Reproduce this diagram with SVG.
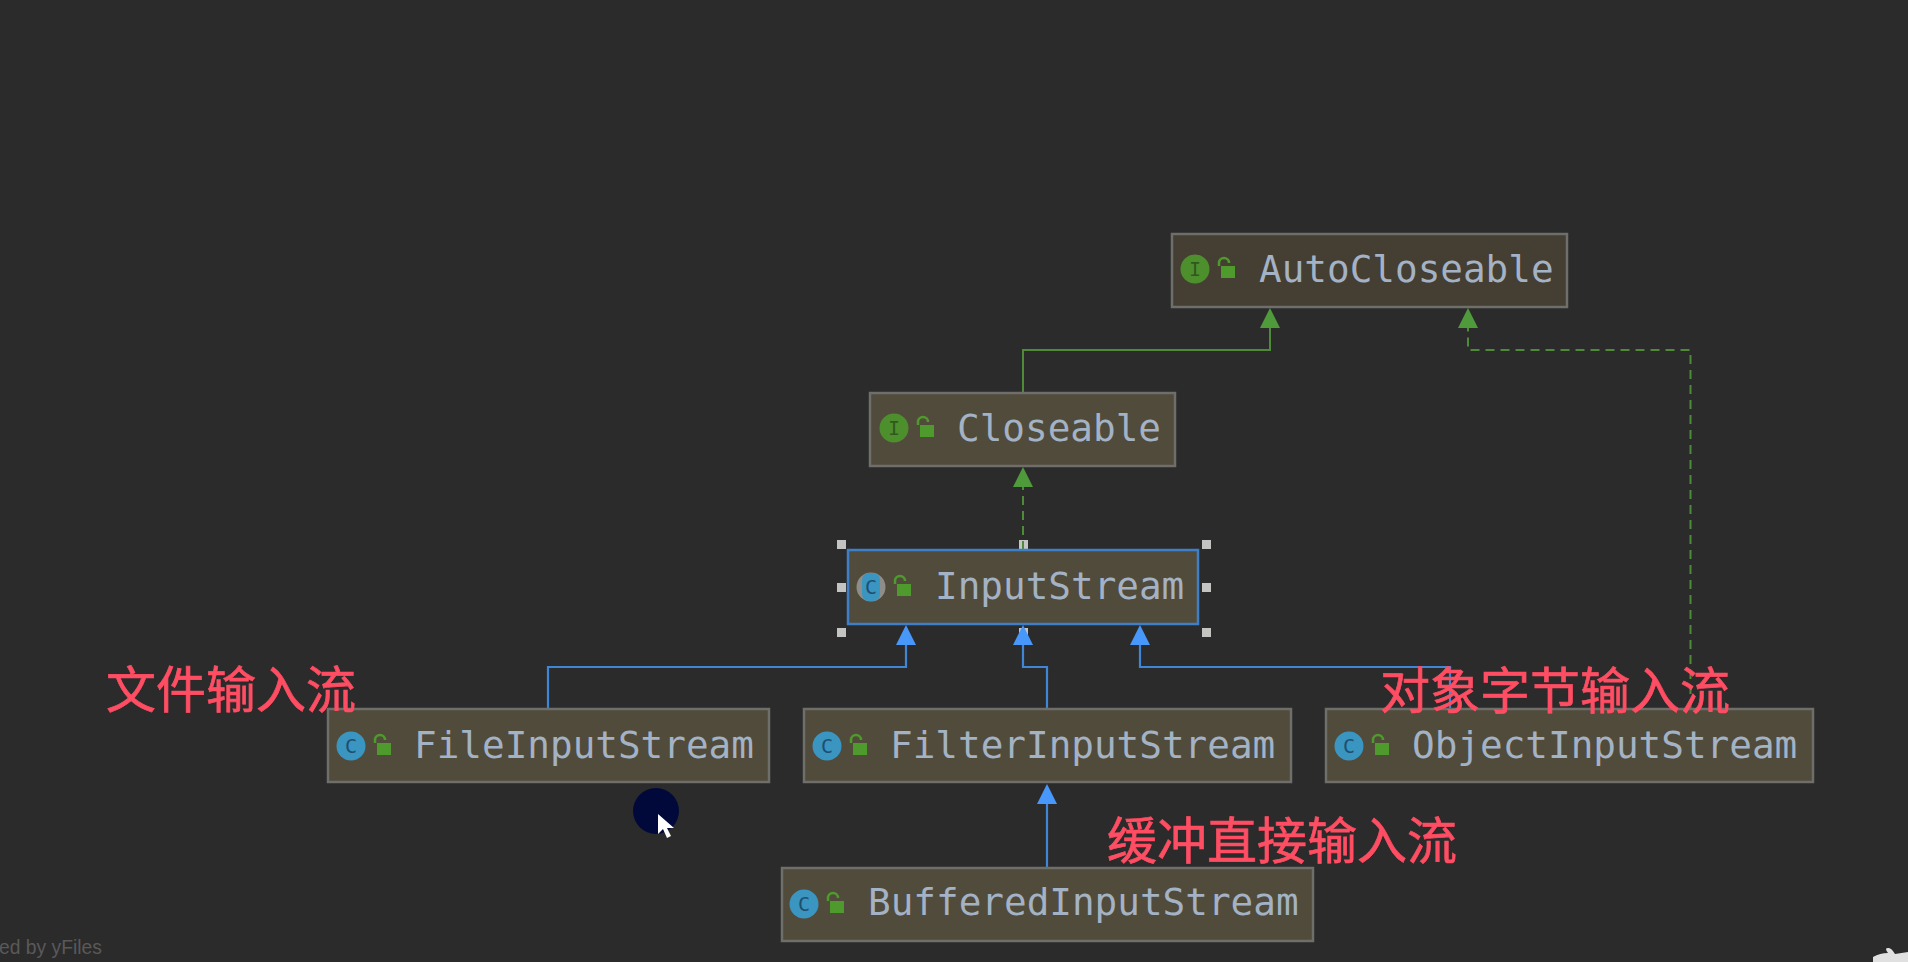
<svg xmlns="http://www.w3.org/2000/svg" width="1908" height="962" viewBox="0 0 1908 962">
<style>
.node{fill:#514b3b;stroke:#6e6e6a;stroke-width:2.5}
.name{font-family:"DejaVu Sans Mono","Liberation Mono",monospace;font-size:37.65px;fill:#a3b2c4}
.ic{fill:#3a95c0}
.ii{fill:#4e8f2d}
.gl{font-family:"DejaVu Sans Mono","Liberation Mono",monospace;font-size:20px;text-anchor:middle;fill:#1f4f70}
.lockb{fill:#4f9a2c}
.lock{fill:none;stroke:#4f9a2c;stroke-width:2.5}
.cb{fill:none;stroke:#3f86d6;stroke-width:2.2}
.cg{fill:none;stroke:#4f8a38;stroke-width:2}
.dash{stroke-dasharray:9 6}
.ag{fill:#4f9a3a}
.ab{fill:#4898fb}
.label{font-family:"Noto Sans CJK SC","Liberation Sans",sans-serif;font-size:50px;fill:#ff4d63;stroke:#ff4d63;stroke-width:.7}
.h{fill:#c4c4c2}
</style>
<rect width="1908" height="962" fill="#2b2b2b"/>
<g id="handles">
<rect class="h" x="837" y="540" width="9" height="9"/><rect class="h" x="1019" y="540" width="9" height="9"/><rect class="h" x="1202" y="540" width="9" height="9"/>
<rect class="h" x="837" y="583" width="9" height="9"/><rect class="h" x="1202" y="583" width="9" height="9"/>
<rect class="h" x="837" y="628" width="9" height="9"/><rect class="h" x="1019" y="628" width="9" height="9"/><rect class="h" x="1202" y="628" width="9" height="9"/>
</g>
<g id="connectors">
<path class="cg" d="M1023 392V350H1270V328"/>
<path class="ag" d="M1270 308L1280 328H1260Z"/>
<path class="cg dash" d="M1690.500 709V350H1468V328"/>
<path class="ag" d="M1468 308L1478 328H1458Z"/>
<path class="cg dash" d="M1023 550V487"/>
<path class="ag" d="M1023 467L1033 487H1013Z"/>
<path class="cb" d="M548 708V667H906V645"/>
<path class="ab" d="M906 625L916 645H896Z"/>
<path class="cb" d="M1047 708V667H1023V645"/>
<path class="ab" d="M1023 625L1033 645H1013Z"/>
<path class="cb" d="M1450 708V667H1140V645"/>
<path class="ab" d="M1140 625L1150 645H1130Z"/>
<path class="cb" d="M1047 868V804"/>
<path class="ab" d="M1047 784L1057 804H1037Z"/>
</g>
<g id="node-autocloseable">
<rect class="node" x="1172" y="234" width="395" height="73" style="fill:#453e32"/>
<circle class="ii" cx="1195" cy="269" r="14.500"/><text class="gl" x="1195" y="276" style="fill:#2f5a1e">I</text>
<path class="lock" d="M1219 266v-3a5 5 0 0 1 10 0"/><rect class="lockb" x="1221" y="266" width="14" height="12"/>
<text class="name" x="1259" y="282">AutoCloseable</text>
</g>
<g id="node-closeable">
<rect class="node" x="870" y="393" width="305" height="73"/>
<circle class="ii" cx="894" cy="428" r="14.500"/><text class="gl" x="894" y="435" style="fill:#2f5a1e">I</text>
<path class="lock" d="M918 425v-3a5 5 0 0 1 10 0"/><rect class="lockb" x="920" y="425" width="14" height="12"/>
<text class="name" x="957" y="441">Closeable</text>
</g>
<g id="node-inputstream">
<rect class="node" x="848" y="550" width="350" height="74" style="stroke:#3f7fc8"/>
<circle cx="871" cy="587" r="14.500" fill="#8d8d8a"/><rect class="ic" x="862" y="573" width="18" height="28" rx="7"/><text class="gl" x="871" y="594">C</text>
<path class="lock" d="M895 584v-3a5 5 0 0 1 10 0"/><rect class="lockb" x="897" y="584" width="14" height="12"/>
<text class="name" x="935" y="599">InputStream</text>
</g>
<g id="node-fileinputstream">
<rect class="node" x="328" y="709" width="441" height="73"/>
<circle class="ic" cx="351" cy="746" r="14.500"/><text class="gl" x="351" y="753">C</text>
<path class="lock" d="M375 743v-3a5 5 0 0 1 10 0"/><rect class="lockb" x="377" y="743" width="14" height="12"/>
<text class="name" x="414" y="758">FileInputStream</text>
</g>
<g id="node-filterinputstream">
<rect class="node" x="804" y="709" width="487" height="73"/>
<circle class="ic" cx="827" cy="746" r="14.500"/><text class="gl" x="827" y="753">C</text>
<path class="lock" d="M851 743v-3a5 5 0 0 1 10 0"/><rect class="lockb" x="853" y="743" width="14" height="12"/>
<text class="name" x="890" y="758">FilterInputStream</text>
</g>
<g id="node-objectinputstream">
<rect class="node" x="1326" y="709" width="487" height="73"/>
<circle class="ic" cx="1349" cy="746" r="14.500"/><text class="gl" x="1349" y="753">C</text>
<path class="lock" d="M1373 743v-3a5 5 0 0 1 10 0"/><rect class="lockb" x="1375" y="743" width="14" height="12"/>
<text class="name" x="1412" y="758">ObjectInputStream</text>
</g>
<g id="node-bufferedinputstream">
<rect class="node" x="782" y="868" width="531" height="73"/>
<circle class="ic" cx="804" cy="904" r="14.500"/><text class="gl" x="804" y="911">C</text>
<path class="lock" d="M828 901v-3a5 5 0 0 1 10 0"/><rect class="lockb" x="830" y="901" width="14" height="12"/>
<text class="name" x="868" y="915">BufferedInputStream</text>
</g>
<text class="label" x="106" y="708">文件输入流</text>
<text class="label" x="1380" y="709">对象字节输入流</text>
<text class="label" x="1107" y="859">缓冲直接输入流</text>
<circle cx="656" cy="811" r="23" fill="#00093a"/>
<path d="M658 814V834L663 829L667 838L671 836L667 828L674 828Z" fill="#fff"/>
<text x="-1" y="954" font-family="Liberation Sans, sans-serif" font-size="19.300" fill="#595959">ed by yFiles</text>
<path d="M1873 962V957Q1880 953 1888 953Q1884 948 1888 948Q1891 947 1895 954L1908 952V962Z" fill="#e0e0e0"/>
</svg>
